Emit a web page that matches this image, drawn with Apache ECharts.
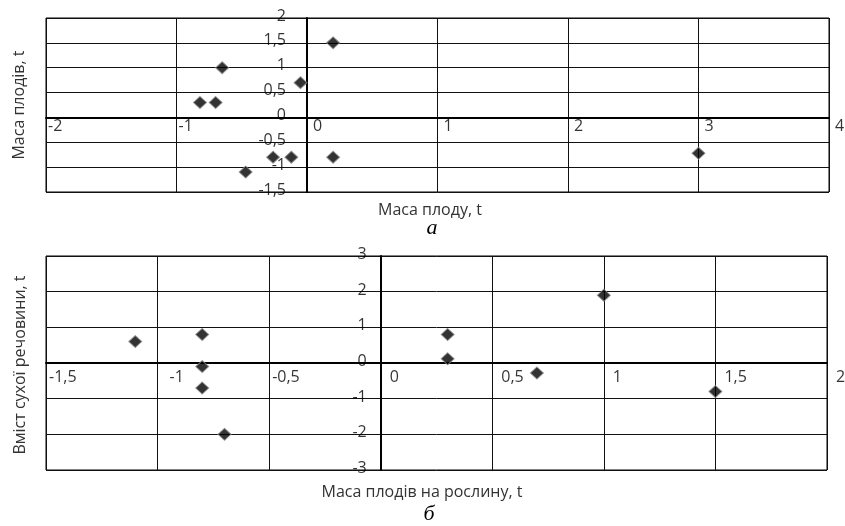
<!DOCTYPE html>
<html><head><meta charset="utf-8">
<script src="https://cdn.jsdelivr.net/npm/echarts@6/dist/echarts.min.js"></script>
<style>html,body{margin:0;padding:0;background:#fff}#c{width:845px;height:526px}</style>
</head><body><div id="c"></div>
<script>
// Chart (а)
const pointsA_x = [0.2, -0.65, -0.05, -0.82, -0.7, -0.26, -0.12, 0.2, -0.47, 3.0];
const pointsA_y = [1.5, 1.0, 0.7, 0.3, 0.3, -0.8, -0.8, -0.8, -1.1, -0.72];
const ticksAX_val = [-2, -1, 0, 1, 2, 3, 4];
const ticksAX = ['-2', '-1', '0', '1', '2', '3', '4'];
const ticksAY_val = [-1.5, -1, -0.5, 0, 0.5, 1, 1.5, 2];
const ticksAY = ['-1,5', '-1', '-0,5', '0', '0,5', '1', '1,5', '2'];
// Chart (б)
const pointsB_x = [-1.1, -0.8, -0.8, -0.8, -0.7, 0.3, 0.3, 0.7, 1.0, 1.5];
const pointsB_y = [0.6, 0.8, -0.1, -0.7, -2.0, 0.8, 0.12, -0.28, 1.9, -0.8];
const ticksBX_val = [-1.5, -1, -0.5, 0, 0.5, 1, 1.5, 2];
const ticksBX = ['-1,5', '-1', '-0,5', '0', '0,5', '1', '1,5', '2'];
const ticksBY_val = [-3, -2, -1, 0, 1, 2, 3];
const ticksBY = ['-3', '-2', '-1', '0', '1', '2', '3'];

const titleA_x = 'Маса плоду, t', titleA_y = 'Маса плодів, t', capA = 'а';
const titleB_x = 'Маса плодів на рослину, t', titleB_y = 'Вміст сухої речовини, t', capB = 'б';

const FONT = 'Open Sans';
const splitL = {show: true, lineStyle: {color: '#111', width: 1}};
const axLine = {show: true, onZero: true, lineStyle: {color: '#000', width: 2}};

function ax(g, min, max, step) {
  return {type: 'value', gridIndex: g, min: min, max: max, interval: step,
    axisLine: axLine, axisTick: {show: false}, splitLine: splitL, axisLabel: {show: false}};
}
const sym = {symbol: 'diamond', symbolSize: [13, 12],
  itemStyle: {color: '#000', borderColor: '#8a8a8a', borderWidth: 1}, z: 3};

// tick labels placed through the axes' scales at (value, 0) / (0, value)
function xLabels(g, vals, texts, dy, padFn) {
  return {type: 'scatter', xAxisIndex: g, yAxisIndex: g, symbolSize: 0, silent: true, z: 4,
    data: vals.map((v, i) => ({value: [v, 0], name: texts[i],
      label: {position: [padFn(texts[i]), dy]}})),
    label: {show: true, formatter: p => p.name, align: 'left', verticalAlign: 'top',
      fontSize: 16, fontFamily: FONT, color: '#000'}};
}
function yLabels(g, vals, texts, dx, dy) {
  return {type: 'scatter', xAxisIndex: g, yAxisIndex: g, symbolSize: 0, silent: true, z: 4,
    data: vals.map((v, i) => ({value: [0, v], name: texts[i]})),
    label: {show: true, formatter: p => p.name, position: [-dx, dy], align: 'right', verticalAlign: 'middle',
      fontSize: 16, fontFamily: FONT, color: '#000'}};
}

const chart = echarts.init(document.getElementById('c'));
chart.setOption({
  animation: false,
  backgroundColor: '#fff',
  grid: [
    {left: 46, right: 16, top: 18, bottom: 334, show: true, borderColor: '#000', borderWidth: 1, outerBoundsMode: 'none', containLabel: false},
    {left: 46, right: 18, top: 256, bottom: 56, show: true, borderColor: '#000', borderWidth: 1, outerBoundsMode: 'none', containLabel: false}
  ],
  xAxis: [ax(0, -2, 4, 1), ax(1, -1.5, 2, 0.5)],
  yAxis: [ax(0, -1.5, 2, 0.5), ax(1, -3, 3, 1)],
  series: [
    Object.assign({type: 'scatter', xAxisIndex: 0, yAxisIndex: 0,
      data: pointsA_x.map((x, i) => [x, pointsA_y[i]])}, sym),
    Object.assign({type: 'scatter', xAxisIndex: 1, yAxisIndex: 1,
      data: pointsB_x.map((x, i) => [x, pointsB_y[i]])}, sym),
    xLabels(0, ticksAX_val, ticksAX, 1, t => t.charAt(0) === '-' ? 2 : 6),
    yLabels(0, ticksAY_val, ticksAY, 21, -2),
    xLabels(1, ticksBX_val, ticksBX, 6, t => t === '-1' ? 12 : (t.charAt(0) === '-' ? 3 : 9)),
    yLabels(1, ticksBY_val, ticksBY, 14, -1.5)
  ],
  graphic: [
    {type: 'text', x: 430, y: 210, style: {text: titleA_x, fill: '#333', font: '16px "Open Sans"', textAlign: 'center', textVerticalAlign: 'middle'}},
    {type: 'text', x: 432, y: 228, style: {text: capA, fill: '#000', font: 'italic 22px "Liberation Serif"', textAlign: 'center', textVerticalAlign: 'middle'}},
    {type: 'text', x: 19, y: 105, rotation: Math.PI / 2, style: {text: titleA_y, fill: '#333', font: '16px "Open Sans"', textAlign: 'center', textVerticalAlign: 'middle'}},
    {type: 'text', x: 422, y: 492, style: {text: titleB_x, fill: '#333', font: '16px "Open Sans"', textAlign: 'center', textVerticalAlign: 'middle'}},
    {type: 'text', x: 429, y: 514, style: {text: capB, fill: '#000', font: 'italic 22px "Liberation Serif"', textAlign: 'center', textVerticalAlign: 'middle'}},
    {type: 'text', x: 20, y: 365, rotation: Math.PI / 2, style: {text: titleB_y, fill: '#333', font: '16px "Open Sans"', textAlign: 'center', textVerticalAlign: 'middle'}}
  ]
});
</script></body></html>
